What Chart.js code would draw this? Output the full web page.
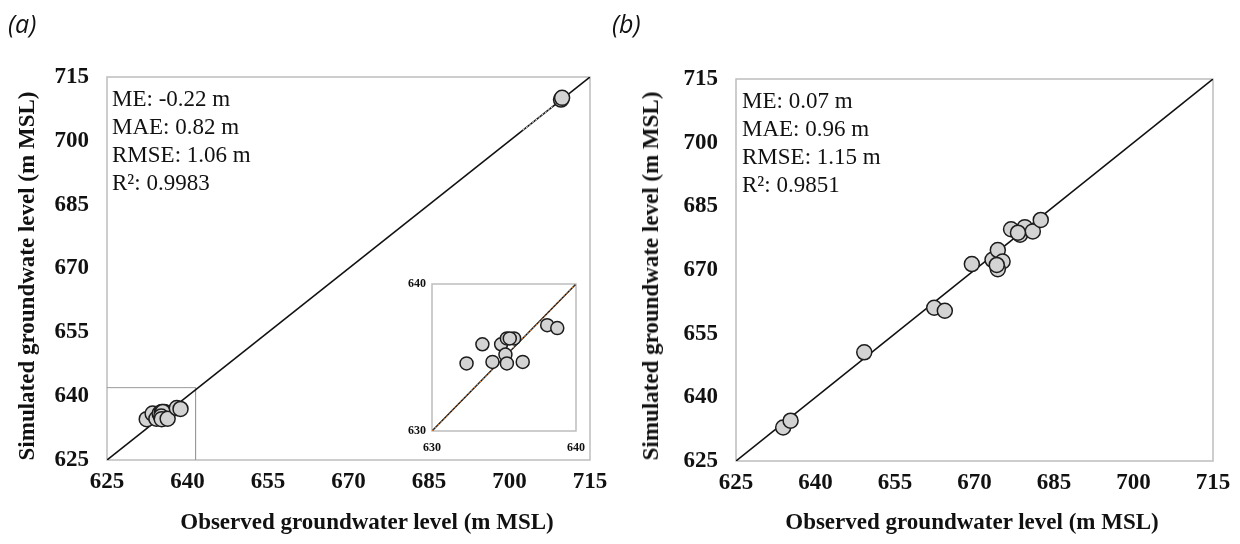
<!DOCTYPE html>
<html>
<head>
<meta charset="utf-8">
<script src="https://cdn.jsdelivr.net/npm/chart.js@4.4.1/dist/chart.umd.min.js"></script>
<style>
  html, body { margin: 0; padding: 0; background: #fff; }
  #wrap { position: relative; width: 1240px; height: 544px; overflow: hidden; }
  canvas { position: absolute; }
  .tag { position: absolute; font-family: "Open Sans", sans-serif; font-style: italic; font-size: 25px; color: #111; }
  .stats { position: absolute; font-family: "Liberation Serif", serif; font-size: 23px; line-height: 28px; color: #111; white-space: nowrap; }
  .xt, .yt { position: absolute; font-family: "Liberation Serif", serif; font-weight: bold; font-size: 23px; color: #111; white-space: nowrap; }
  .xt { transform: translateX(-50%); }
  .yt { transform: translate(-50%, -50%) rotate(-90deg); }
</style>
</head>
<body>
<div id="wrap">
  <canvas id="chartA" width="620" height="544" style="left:0;top:0;width:620px;height:544px"></canvas>
  <canvas id="chartInset" width="200" height="186" style="left:395px;top:270px;width:200px;height:186px"></canvas>
  <canvas id="chartB" width="620" height="544" style="left:620px;top:0;width:620px;height:544px"></canvas>

  <div class="tag" style="left:8px;top:6px">(a)</div>
  <div class="tag" style="left:612px;top:6px">(b)</div>

  <div class="stats" style="left:112px;top:85px">ME: -0.22 m<br>MAE: 0.82 m<br>RMSE: 1.06 m<br>R²: 0.9983</div>
  <div class="stats" style="left:742px;top:87px">ME: 0.07 m<br>MAE: 0.96 m<br>RMSE: 1.15 m<br>R²: 0.9851</div>

  <div class="xt" style="left:367px;top:509px">Observed groundwater level (m MSL)</div>
  <div class="xt" style="left:972px;top:509px">Observed groundwater level (m MSL)</div>
  <div class="yt" style="left:27px;top:276px">Simulated groundwate level (m MSL)</div>
  <div class="yt" style="left:651px;top:276px">Simulated groundwate level (m MSL)</div>
</div>

<script>
// Axis range and tick step (m MSL)
const axisMin = 625;
const axisMax = 715;
const axisStep = 15;
const insetMin = 630;
const insetMax = 640;

// (a) observed vs simulated heads
const obsA = [632.4, 633.5, 634.2, 634.8, 635.2, 635.7, 635.4, 635.1, 635.2, 636.3, 638.0, 638.7, 709.6, 709.8];
const simA = [634.6, 635.9, 634.7, 635.9, 636.3, 636.3, 636.3, 635.2, 634.6, 634.7, 637.2, 637.0, 709.7, 710.1];

// (b) observed vs simulated heads
const obsB = [633.9, 635.3, 649.2, 662.4, 664.4, 669.5, 673.4, 674.4, 675.3, 674.4, 674.2, 676.9, 678.6, 679.5, 681.0, 682.5, 678.2];
const simB = [632.9, 634.5, 650.6, 661.1, 660.4, 671.4, 672.4, 674.7, 672.0, 670.2, 671.2, 679.6, 678.3, 680.1, 679.1, 681.8, 678.8];

// extent of the zoomed window marked on (a)
const zoomBoxX = [625, 641.5];
const zoomBoxY = [625, 642];
// short dotted stretch of the fit line near the upper wells in (a)
const dottedSpan = [702.5, 708];

const pts = (xs, ys) => xs.map((x, i) => ({ x: x, y: ys[i] }));
const oneToOne = (lo, hi) => [{ x: lo, y: lo }, { x: hi, y: hi }];

// frame around the plotting area
const framePlugin = {
  id: 'frame',
  beforeDatasetsDraw(chart) {
    const a = chart.chartArea, c = chart.ctx;
    c.save();
    c.strokeStyle = '#bdbdbd';
    c.lineWidth = 1.5;
    c.strokeRect(a.left, a.top, a.right - a.left, a.bottom - a.top);
    c.restore();
  }
};

function scales(min, max, step, fontSize, yWidth, xHeight, xPad, yPad) {
  const tickFont = { family: 'Liberation Serif', weight: 'bold', size: fontSize };
  return {
    x: {
      type: 'linear', min: min, max: max,
      grid: { display: false, drawTicks: false },
      border: { display: false },
      ticks: { stepSize: step, font: tickFont, color: '#111', padding: xPad, maxRotation: 0, autoSkip: false },
      afterFit(s) { s.height = xHeight; }
    },
    y: {
      type: 'linear', min: min, max: max,
      grid: { display: false, drawTicks: false },
      border: { display: false },
      ticks: { stepSize: step, font: tickFont, color: '#111', padding: yPad, autoSkip: false },
      afterFit(s) { s.width = yWidth; }
    }
  };
}

const pointStyle = (r) => ({
  type: 'scatter',
  backgroundColor: '#d3d3d3',
  borderColor: '#1c1c1c',
  borderWidth: 1.5,
  pointRadius: r,
  pointHoverRadius: r,
  order: 1
});

const lineStyle = (color, width, dash, order) => ({
  type: 'line',
  showLine: true,
  borderColor: color,
  borderWidth: width,
  borderDash: dash,
  pointRadius: 0,
  fill: false,
  order: order
});

const common = {
  responsive: false,
  animation: false,
  plugins: { legend: { display: false }, tooltip: { enabled: false } },
  events: []
};

// (a)
new Chart(document.getElementById('chartA'), {
  type: 'scatter',
  data: {
    datasets: [
      Object.assign({ data: oneToOne(axisMin, axisMax) }, lineStyle('#111', 1.6, [], 4)),
      Object.assign({ data: [{ x: dottedSpan[0], y: dottedSpan[0] }, { x: dottedSpan[1], y: dottedSpan[1] }] }, lineStyle('#e8e8e8', 1, [2, 2], 3)),
      Object.assign({ data: [{ x: zoomBoxX[0], y: zoomBoxY[1] }, { x: zoomBoxX[1], y: zoomBoxY[1] }, { x: zoomBoxX[1], y: zoomBoxY[0] }] }, lineStyle('#9a9a9a', 1, [], 5)),
      Object.assign({ data: pts(obsA, simA) }, pointStyle(7.5))
    ]
  },
  options: Object.assign({}, common, {
    layout: { padding: { top: 77, right: 30, left: 0, bottom: 0 } },
    scales: scales(axisMin, axisMax, axisStep, 23, 107, 84, 8, 18)
  }),
  plugins: [framePlugin]
});

// (a) inset, close-up of the lower wells
const inObs = obsA.filter((v, i) => v <= insetMax && simA[i] <= insetMax);
const inSim = simA.filter((v, i) => obsA[i] <= insetMax && v <= insetMax);
new Chart(document.getElementById('chartInset'), {
  type: 'scatter',
  data: {
    datasets: [
      Object.assign({ data: oneToOne(insetMin, insetMax) }, lineStyle('#111', 1.4, [], 3)),
      Object.assign({ data: oneToOne(insetMin, insetMax) }, lineStyle('#e07b2a', 1, [2, 2], 2)),
      Object.assign({ data: pts(inObs, inSim) }, pointStyle(6.5))
    ]
  },
  options: Object.assign({}, common, {
    layout: { padding: { top: 14, right: 19, left: 0, bottom: 0 } },
    scales: scales(insetMin, insetMax, insetMax - insetMin, 12, 37, 25, 10, 6)
  }),
  plugins: [framePlugin]
});

// (b)
new Chart(document.getElementById('chartB'), {
  type: 'scatter',
  data: {
    datasets: [
      Object.assign({ data: oneToOne(axisMin, axisMax) }, lineStyle('#111', 1.6, [], 3)),
      Object.assign({ data: pts(obsB, simB) }, pointStyle(7.5))
    ]
  },
  options: Object.assign({}, common, {
    layout: { padding: { top: 79, right: 27, left: 0, bottom: 0 } },
    scales: scales(axisMin, axisMax, axisStep, 23, 116, 83, 8, 18)
  }),
  plugins: [framePlugin]
});
</script>
</body>
</html>
